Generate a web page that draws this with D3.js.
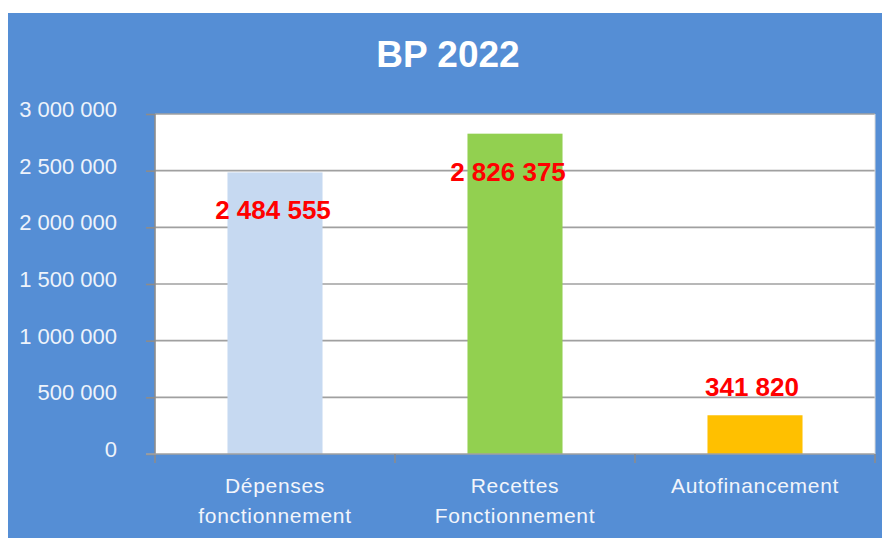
<!DOCTYPE html>
<html>
<head>
<meta charset="utf-8">
<script src="https://cdn.jsdelivr.net/npm/d3@7"></script>
<style>
  body { margin: 0; background: #fff; }
  text { font-family: "Liberation Sans", Arial, sans-serif; }
</style>
</head>
<body>
<div id="chart"></div>
<script>
// chart data
var title = "BP 2022";
var categories = ["Dépenses fonctionnement", "Recettes Fonctionnement", "Autofinancement"];
var categoryLines = [["Dépenses", "fonctionnement"], ["Recettes", "Fonctionnement"], ["Autofinancement"]];
var values = [2484555, 2826375, 341820];
var barColors = ["#c6d9f1", "#92d050", "#ffc000"];
var yTicks = [0, 500000, 1000000, 1500000, 2000000, 2500000, 3000000];
// where excel put each data label
var labelInside = [true, true, false];
var labelShift = [-2, -7, -3];

var width = 882, height = 538;
var plotLeft = 155, plotRight = 875, plotTop = 114, plotBottom = 454;

function fmt(v){
  return d3.format(",")(v).replace(/,/g, " ");
}

var svg = d3.select("#chart").append("svg")
  .attr("width", width)
  .attr("height", height);

svg.append("rect")
  .attr("x", 8).attr("y", 13)
  .attr("width", width - 8).attr("height", height - 13)
  .attr("fill", "#558ed5");

svg.append("rect")
  .attr("x", plotLeft).attr("y", plotTop)
  .attr("width", plotRight - plotLeft).attr("height", plotBottom - plotTop)
  .attr("fill", "#ffffff");

svg.append("text")
  .attr("x", 448).attr("y", 67)
  .attr("text-anchor", "middle")
  .attr("fill", "#ffffff")
  .style("font-size", "37px")
  .style("font-weight", "bold")
  .text(title);

var yScale = d3.scaleLinear()
  .domain([0, 3000000])
  .range([plotBottom, plotTop]);

var xScale = d3.scaleBand()
  .domain(categories)
  .range([plotLeft, plotRight])
  .paddingInner(0.604)
  .paddingOuter(0.302);

var xEdges = d3.scaleBand()
  .domain(categories)
  .range([plotLeft, plotRight]);

// gridlines
svg.append("g").selectAll("line").data(yTicks.slice(1)).enter().append("line")
  .attr("x1", plotLeft).attr("x2", plotRight)
  .attr("y1", function(d){ return yScale(d); })
  .attr("y2", function(d){ return yScale(d); })
  .attr("stroke", "#a0a0a0")
  .attr("stroke-width", 1.6);

// left axis
var yAxis = svg.append("g")
  .attr("transform", "translate(" + plotLeft + ",0)")
  .call(d3.axisLeft(yScale).tickValues(yTicks).tickSize(9).tickPadding(29).tickFormat(fmt));
yAxis.select(".domain").remove();
yAxis.selectAll("line").attr("stroke", "#8c8c8c").attr("stroke-width", 1.6);
yAxis.selectAll("text")
  .attr("fill", "#eef3fb")
  .attr("dy", "0.12em")
  .style("font-size", "22px");

// bars
svg.append("g").selectAll("rect").data(values).enter().append("rect")
  .attr("x", function(d, i){ return xScale(categories[i]); })
  .attr("y", function(d){ return yScale(d); })
  .attr("width", xScale.bandwidth())
  .attr("height", function(d){ return plotBottom - yScale(d); })
  .attr("fill", function(d, i){ return barColors[i]; });

// axis lines
svg.append("line")
  .attr("x1", plotLeft).attr("x2", plotLeft)
  .attr("y1", plotTop).attr("y2", plotBottom + 9)
  .attr("stroke", "#8c8c8c").attr("stroke-width", 1.6);
svg.append("line")
  .attr("x1", plotLeft - 9).attr("x2", plotRight)
  .attr("y1", plotBottom).attr("y2", plotBottom)
  .attr("stroke", "#a0a0a0").attr("stroke-width", 1.6);
svg.append("g").selectAll("line").data(categories).enter().append("line")
  .attr("x1", function(d){ return xEdges(d) + xEdges.bandwidth(); })
  .attr("x2", function(d){ return xEdges(d) + xEdges.bandwidth(); })
  .attr("y1", plotBottom).attr("y2", plotBottom + 9)
  .attr("stroke", "#8c8c8c").attr("stroke-width", 1.6);
svg.append("line")
  .attr("x1", plotRight).attr("x2", plotRight)
  .attr("y1", plotTop).attr("y2", plotBottom)
  .attr("stroke", "#d9d9d9").attr("stroke-width", 1);

// category labels
var cat = svg.append("g").selectAll("text").data(categoryLines).enter().append("text")
  .attr("text-anchor", "middle")
  .attr("fill", "#f2f5fb")
  .style("font-size", "21px")
  .style("letter-spacing", "0.7px");
cat.selectAll("tspan").data(function(d, i){ return d.map(function(t){ return {t: t, i: i}; }); })
  .enter().append("tspan")
  .attr("x", function(d){ return xEdges(categories[d.i]) + xEdges.bandwidth() / 2; })
  .attr("y", function(d, j){ return 493 + j * 30; })
  .text(function(d){ return d.t; });

// data labels
svg.append("g").selectAll("text").data(values).enter().append("text")
  .attr("x", function(d, i){ return xScale(categories[i]) + xScale.bandwidth() / 2 + labelShift[i]; })
  .attr("y", function(d, i){ return labelInside[i] ? yScale(d) + 47 : yScale(d) - 19; })
  .attr("text-anchor", "middle")
  .attr("fill", "#ff0000")
  .style("font-size", "26px")
  .style("font-weight", "bold")
  .text(function(d){ return fmt(d); });
</script>
</body>
</html>
